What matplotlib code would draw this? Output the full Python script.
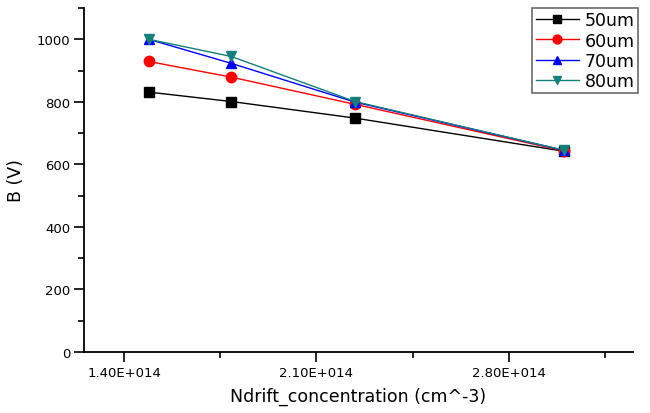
import matplotlib
matplotlib.use("Agg")
import matplotlib.pyplot as plt
from matplotlib.ticker import MultipleLocator, FuncFormatter

plt.rcParams['font.family'] = ['DejaVu Sans']

x = [1.49e14, 1.79e14, 2.24e14, 3.0e14]
y50 = [831, 801, 748, 642]
y60 = [929, 879, 792, 643]
y70 = [1000, 923, 799, 645]
y80 = [1000, 945, 801, 645]
labels = ['50um', '60um', '70um', '80um']

fig = plt.figure(figsize=(6.5, 4.14), dpi=100)
ax = fig.add_axes([84/650, 1 - 353/414, (633-84)/650, (353-9)/414])

ax.plot(x, y50, color='black', marker='s', markersize=6.5, lw=1, label=labels[0])
ax.plot(x, y60, color='red', marker='o', markersize=7.5, lw=1, label=labels[1])
ax.plot(x, y70, color='blue', marker='^', markersize=7.5, lw=1, label=labels[2])
ax.plot(x, y80, color='#13807a', marker='v', markersize=7.5, lw=1, label=labels[3])

ax.set_xlim(1.2545e14, 3.251e14)
ax.set_ylim(0, 1100)
ax.xaxis.set_major_locator(MultipleLocator(0.7e14))
ax.xaxis.set_minor_locator(MultipleLocator(0.35e14))
ax.yaxis.set_major_locator(MultipleLocator(200))
ax.yaxis.set_minor_locator(MultipleLocator(100))
ax.xaxis.set_major_formatter(FuncFormatter(lambda v, p: "%.2fE+0%d" % (v / 1e14, 14)))

for s in ['top', 'right']:
    ax.spines[s].set_visible(False)
for s in ['left', 'bottom']:
    ax.spines[s].set_linewidth(1.3)
ax.tick_params(which='major', direction='out', length=7, width=1.2, labelsize=9.5, pad=3)
ax.tick_params(which='minor', direction='out', length=4.5, width=1.2)

ax.set_xlabel('Ndrift_concentration (cm^-3)', fontsize=12.5, labelpad=6)
ax.set_ylabel('B (V)', fontsize=12.5, labelpad=8)

leg = ax.legend(loc='upper right', bbox_to_anchor=(638/650, 1 - 9/414), bbox_transform=fig.transFigure,
                fontsize=12.5, frameon=True, fancybox=False, edgecolor='#444444',
                handlelength=2.5, handletextpad=0.3, labelspacing=0.12, borderpad=0.2, borderaxespad=0,
                markerscale=0.85)
leg.get_frame().set_linewidth(1.2)

fig.savefig('out.png', dpi=100)
